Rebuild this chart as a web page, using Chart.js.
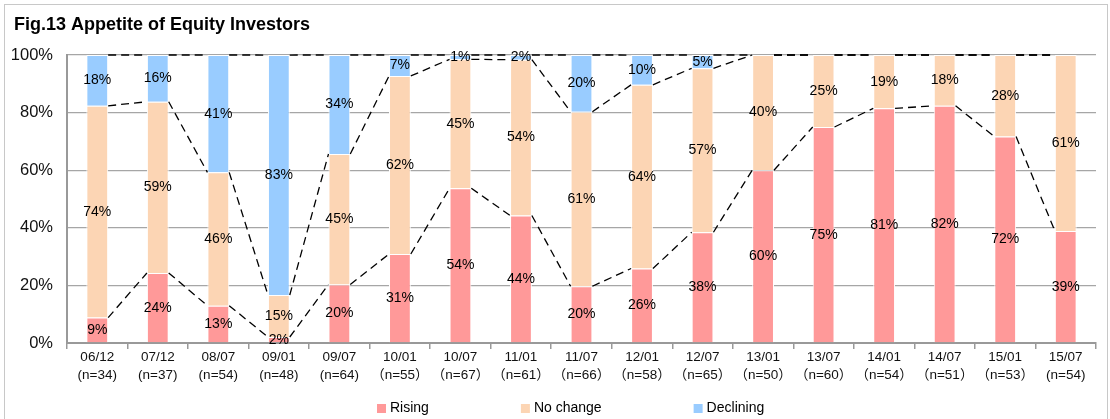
<!DOCTYPE html>
<html>
<head>
<meta charset="utf-8">
<script src="https://cdn.jsdelivr.net/npm/chart.js@4.4.1/dist/chart.umd.min.js"></script>
<style>
  html, body { margin: 0; padding: 0; background: #fff; }
  #wrap { position: relative; width: 1110px; height: 419px; overflow: hidden; }
  #frame { position: absolute; left: 4px; top: 4px; width: 1102px; height: 440px; border: 1px solid #c8c8c8; }
  canvas { position: absolute; left: 0; top: 0; }
</style>
</head>
<body>
<div id="wrap">
  <div id="frame"></div>
  <canvas id="appetiteChart" width="1110" height="419"></canvas>
</div>
<script>
// 🔹 Chart data (shares in %, labels show them rounded)
const title = "Fig.13 Appetite of Equity Investors";
const periods = ["06/12", "07/12", "08/07", "09/01", "09/07", "10/01", "10/07", "11/01", "11/07",
  "12/01", "12/07", "13/01", "13/07", "14/01", "14/07", "15/01", "15/07"];
const sampleSizes = ["(n=34)", "(n=37)", "(n=54)", "(n=48)", "(n=64)", "（n=55）", "（n=67）", "（n=61）", "（n=66）",
  "（n=58）", "（n=65）", "（n=50）", "（n=60）", "（n=54）", "（n=51）", "（n=53）", "(n=54)"];
const seriesNames = ["Rising", "No change", "Declining"];
const rising = [8.82, 24.32, 12.96, 2.08, 20.31, 30.91, 53.73, 44.26, 19.70, 25.86, 38.46, 60, 75, 81.48, 82.35, 71.70, 38.89];
const noChange = [73.53, 59.46, 46.30, 14.58, 45.31, 61.82, 44.78, 54.10, 60.61, 63.79, 56.92, 40, 25, 18.52, 17.65, 28.30, 61.11];
const declining = [17.65, 16.22, 40.74, 83.33, 34.38, 7.27, 1.49, 1.64, 19.70, 10.34, 4.62, 0, 0, 0, 0, 0, 0];
const yTicks = [0, 20, 40, 60, 80, 100];

const colors = ["#ff9999", "#fcd5b4", "#99ccff"];
const FONT = "'Liberation Sans', 'Noto Sans CJK JP', sans-serif";

// 🔹 Dashed "series lines" joining the segment tops of neighbouring bars
const seriesLines = {
  id: "seriesLines",
  afterDatasetsDraw(chart) {
    const ctx = chart.ctx;
    const top = chart.chartArea.top;
    ctx.save();
    ctx.strokeStyle = "#000";
    ctx.lineWidth = 1.3;
    ctx.setLineDash([8, 5]);
    chart.data.datasets.forEach((ds, d) => {
      const bars = chart.getDatasetMeta(d).data;
      for (let i = 0; i < bars.length - 1; i++) {
        let a = bars[i], b = bars[i + 1];
        ctx.beginPath();
        ctx.moveTo(a.x + a.width / 2, Math.max(a.y, top));
        ctx.lineTo(b.x - b.width / 2, Math.max(b.y, top));
        ctx.stroke();
      }
    });
    ctx.restore();
  },
};

// 🔹 Percent labels in the middle of each segment
const segmentLabels = {
  id: "segmentLabels",
  afterDatasetsDraw(chart) {
    const ctx = chart.ctx;
    const top = chart.chartArea.top;
    ctx.save();
    ctx.fillStyle = "#000";
    ctx.font = "14px " + FONT;
    ctx.textAlign = "center";
    ctx.textBaseline = "middle";
    chart.data.datasets.forEach((ds, d) => {
      chart.getDatasetMeta(d).data.forEach((bar, i) => {
        let v = ds.data[i];
        if (!v) return;
        let yTop = Math.max(bar.y, top);
        ctx.fillText(Math.round(v) + "%", bar.x, (yTop + bar.base) / 2);
      });
    });
    ctx.restore();
  },
};

// 🔹 Title and legend row
const titleAndLegend = {
  id: "titleAndLegend",
  afterDraw(chart) {
    const ctx = chart.ctx;
    ctx.save();
    ctx.fillStyle = "#000";
    ctx.font = "bold 18px " + FONT;
    ctx.textAlign = "left";
    ctx.textBaseline = "alphabetic";
    ctx.fillText(title, 14, 30);

    ctx.font = "14px " + FONT;
    ctx.textBaseline = "middle";
    let x = 377;
    const y = 408;
    chart.data.datasets.forEach((ds) => {
      ctx.fillStyle = ds.backgroundColor;
      ctx.fillRect(x, y - 4, 9, 9);
      ctx.fillStyle = "#000";
      ctx.fillText(ds.label, x + 13, y);
      x += 13 + ctx.measureText(ds.label).width + 92;
    });
    ctx.restore();
  },
};

const ctx = document.getElementById("appetiteChart").getContext("2d");

new Chart(ctx, {
  type: "bar",
  data: {
    labels: periods.map((p, i) => [p, sampleSizes[i]]),
    datasets: [rising, noChange, declining].map((values, i) => ({
      label: seriesNames[i],
      data: values,
      backgroundColor: colors[i],
      borderColor: "#ffffff",
      borderWidth: 1,
      barPercentage: 0.36,
      categoryPercentage: 1,
    })),
  },
  options: {
    responsive: false,
    animation: false,
    layout: { padding: { top: 55, right: 14, left: 0, bottom: 0 } },
    plugins: {
      legend: { display: false },
      tooltip: { enabled: false },
    },
    scales: {
      x: {
        stacked: true,
        grid: { drawOnChartArea: false, offset: true, tickLength: 6, color: "#999", lineWidth: 1.5 },
        border: { color: "#999", width: 2 },
        ticks: {
          color: "#111",
          font: { family: FONT, size: 13.5, lineHeight: 1.3 },
          padding: 0,
          maxRotation: 0,
          autoSkip: false,
        },
        afterFit(scale) {
          scale.height = 76;
        },
      },
      y: {
        stacked: true,
        min: 0,
        max: 100,
        afterBuildTicks(scale) {
          scale.ticks = yTicks.map((v) => ({ value: v }));
        },
        ticks: {
          color: "#111",
          font: { family: FONT, size: 16.5 },
          padding: 14,
          callback: (v) => v + "%",
        },
        grid: { color: "#a6a6a6", lineWidth: 1.3, drawTicks: false },
        border: { color: "#999", width: 2 },
        afterFit(scale) {
          scale.width = 67;
        },
      },
    },
  },
  plugins: [seriesLines, segmentLabels, titleAndLegend],
});
</script>
</body>
</html>
